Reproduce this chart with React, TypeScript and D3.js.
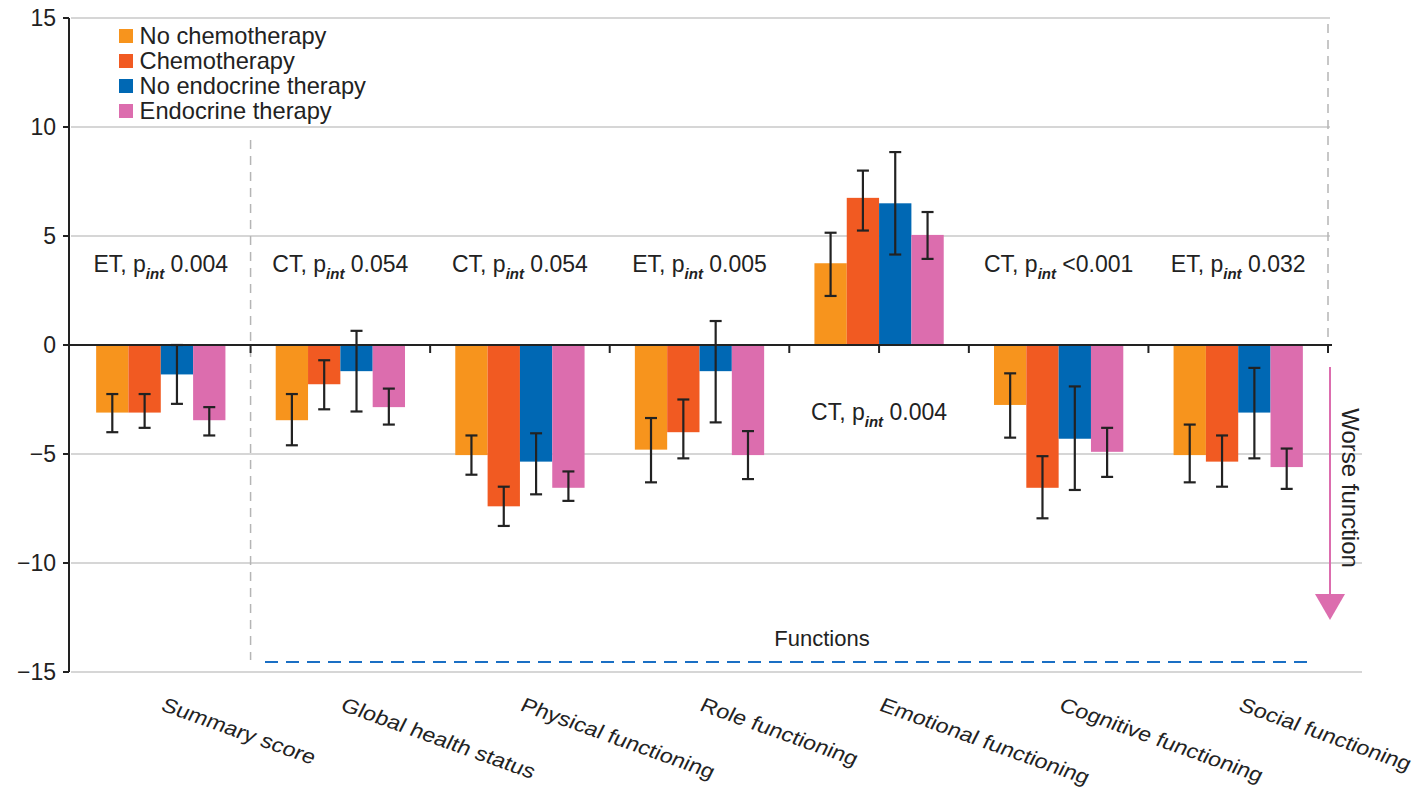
import { useEffect } from "react";
import * as d3 from "d3";

// categories and series
const categories = [
  "Summary score",
  "Global health status",
  "Physical functioning",
  "Role functioning",
  "Emotional functioning",
  "Cognitive functioning",
  "Social functioning",
];
const seriesNames = ["No chemotherapy", "Chemotherapy", "No endocrine therapy", "Endocrine therapy"];
const seriesColors = ["#F7941D", "#F15A22", "#0068B4", "#DC6DAE"];

// mean change per category, one array per series
const noChemo = [-3.1, -3.45, -5.05, -4.8, 3.75, -2.75, -5.05];
const chemo = [-3.1, -1.8, -7.4, -4.0, 6.75, -6.55, -5.35];
const noEndo = [-1.35, -1.2, -5.35, -1.2, 6.5, -4.3, -3.1];
const endo = [-3.45, -2.85, -6.55, -5.05, 5.05, -4.9, -5.6];

// error bar ends (low / high)
const noChemoLo = [-4.0, -4.6, -5.95, -6.3, 2.25, -4.25, -6.3];
const noChemoHi = [-2.25, -2.25, -4.15, -3.35, 5.15, -1.3, -3.65];
const chemoLo = [-3.8, -2.95, -8.3, -5.2, 5.25, -7.95, -6.5];
const chemoHi = [-2.25, -0.7, -6.5, -2.5, 8.0, -5.1, -4.15];
const noEndoLo = [-2.7, -3.05, -6.85, -3.55, 4.15, -6.65, -5.2];
const noEndoHi = [0.0, 0.65, -4.05, 1.1, 8.85, -1.9, -1.05];
const endoLo = [-4.15, -3.65, -7.15, -6.15, 3.95, -6.05, -6.6];
const endoHi = [-2.85, -2.0, -5.8, -3.95, 6.1, -3.8, -4.75];

const yTicks = [15, 10, 5, 0, -5, -10, -15];

// interaction annotations
const annotPrefix = ["ET, p", "CT, p", "CT, p", "ET, p", "CT, p", "CT, p", "ET, p"];
const annotValue = [" 0.004", " 0.054", " 0.054", " 0.005", " 0.004", " <0.001", " 0.032"];

const FONT = "'Liberation Sans', Arial, sans-serif";

export default function App() {
  useEffect(() => {
    document.body.style.margin = "0";
  }, []);

  const width = 1420;
  const height = 795;
  const x0 = 71;
  const x1 = 1328;

  const y = d3.scaleLinear().domain([-15, 15]).range([672, 18]);
  const x = d3.scaleBand<string>().domain(categories).range([x0, x1]).paddingInner(0).paddingOuter(0);
  const bw = x.bandwidth();
  const inner = d3
    .scaleBand<number>()
    .domain([0, 1, 2, 3])
    .range([bw * 0.14, bw * 0.86]);

  const values = [noChemo, chemo, noEndo, endo];
  const lows = [noChemoLo, chemoLo, noEndoLo, endoLo];
  const highs = [noChemoHi, chemoHi, noEndoHi, endoHi];

  const boundaryTicks = categories.slice(1).map((c) => x(c) as number).concat([x1]);
  const emotionalCenter = (x("Emotional functioning") as number) + bw / 2;

  return (
    <svg width={width} height={height} style={{ display: "block", background: "#fff" }} fontFamily={FONT}>
      {/* grid */}
      {yTicks
        .filter((t) => t !== 0)
        .map((t) => (
          <line key={t} x1={x0} x2={t > 0 ? 1330 : 1362} y1={y(t)} y2={y(t)} stroke="#c9c9c9" strokeWidth={1.5} />
        ))}
      {/* vertical dashed separators */}
      <line x1={x("Global health status")} x2={x("Global health status")} y1={140} y2={660} stroke="#b5b5b5" strokeWidth={1.5} strokeDasharray="9,7" />
      <line x1={x1} x2={x1} y1={24} y2={y(0)} stroke="#b5b5b5" strokeWidth={1.5} strokeDasharray="9,7" />

      {/* bars */}
      {categories.map((c, i) => (
        <g key={c} transform={`translate(${x(c)},0)`}>
          {values.map((s, k) => (
            <rect
              key={k}
              x={inner(k)}
              width={inner.bandwidth()}
              y={Math.min(y(s[i]), y(0))}
              height={Math.abs(y(s[i]) - y(0))}
              fill={seriesColors[k]}
            />
          ))}
          {values.map((_, k) => {
            const cx = (inner(k) as number) + inner.bandwidth() / 2;
            return (
              <g key={"e" + k} stroke="#222" strokeWidth={2.2}>
                <line x1={cx} x2={cx} y1={y(lows[k][i])} y2={y(highs[k][i])} />
                <line x1={cx - 6} x2={cx + 6} y1={y(lows[k][i])} y2={y(lows[k][i])} />
                <line x1={cx - 6} x2={cx + 6} y1={y(highs[k][i])} y2={y(highs[k][i])} />
              </g>
            );
          })}
        </g>
      ))}

      {/* zero axis */}
      <line x1={x0 - 2} x2={1332} y1={y(0)} y2={y(0)} stroke="#222" strokeWidth={2} />
      {boundaryTicks.concat([emotionalCenter]).map((t, i) => (
        <line key={i} x1={t} x2={t} y1={y(0)} y2={y(0) + 8} stroke="#222" strokeWidth={2} />
      ))}

      {/* y axis */}
      <line x1={69} x2={69} y1={y(15)} y2={y(-15)} stroke="#222" strokeWidth={2} />
      {yTicks.map((t) => (
        <g key={t}>
          <line x1={63} x2={69} y1={y(t)} y2={y(t)} stroke="#222" strokeWidth={2} />
          <text x={56} y={y(t)} dy="0.36em" textAnchor="end" fontSize={23} fill="#222">
            {t < 0 ? "\u2212" + Math.abs(t) : t}
          </text>
        </g>
      ))}

      {/* annotations */}
      {categories.map((c, i) => {
        const cx = (x(c) as number) + bw / 2;
        const ay = i === 4 ? 420 : 272;
        return (
          <text key={"a" + c} x={cx} y={ay} textAnchor="middle" fontSize={23} fill="#222">
            {annotPrefix[i]}
            <tspan fontSize={15} fontStyle="italic" fontWeight="bold" dy={7}>
              int
            </tspan>
            <tspan dy={-7}>{annotValue[i]}</tspan>
          </text>
        );
      })}

      {/* legend */}
      {seriesNames.map((n, k) => (
        <g key={n} transform={`translate(119,${36 + k * 25})`}>
          <rect x={0} y={-7} width={14} height={14} fill={seriesColors[k]} />
          <text x={20} y={0} dy="0.36em" fontSize={23} fill="#222" transform="scale(1.03,1)">
            {n}
          </text>
        </g>
      ))}

      {/* functions bracket */}
      <line x1={265} x2={1312} y1={662} y2={662} stroke="#1A6FC4" strokeWidth={2.2} strokeDasharray="13,8" />
      <text x={822} y={646} textAnchor="middle" fontSize={22} fill="#222">
        Functions
      </text>

      {/* worse function arrow */}
      <line x1={1330} x2={1330} y1={367} y2={600} stroke="#DC6DAE" strokeWidth={2} />
      <path d="M1315,594 L1345,594 L1330,620 Z" fill="#DC6DAE" />
      <text transform="translate(1342,488) rotate(90)" textAnchor="middle" fontSize={24} fill="#222">
        Worse function
      </text>

      {/* category labels (slanted, horizontally stretched) */}
      {categories.map((c) => {
        const cx = (x(c) as number) + bw / 2;
        return (
          <text
            key={"l" + c}
            transform={`translate(${cx - 1},710) scale(1.18,1) rotate(23)`}
            fontSize={20}
            fill="#222"
          >
            {c}
          </text>
        );
      })}
    </svg>
  );
}
